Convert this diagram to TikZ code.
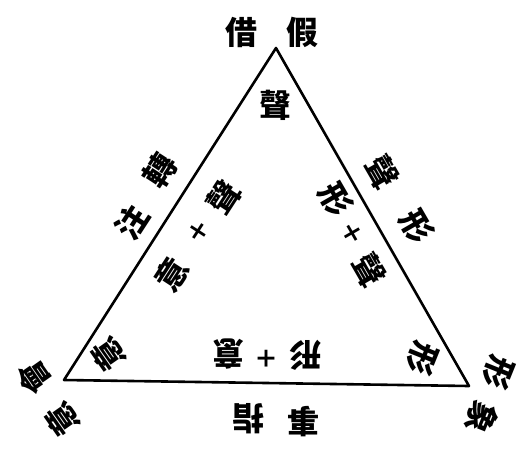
\documentclass[tikz,border=0pt]{standalone}
\usepackage{fontspec}
\newfontfamily\cjk{Noto Sans CJK TC}

\begin{document}
\begin{tikzpicture}[x=1pt, y=-1pt,
    zi/.style={font=\cjk\bfseries\fontsize{32}{32}\selectfont, inner sep=0pt},
    jia/.style={font=\cjk\bfseries\fontsize{24}{24}\selectfont, inner sep=0pt}]
    \useasboundingbox (0,0) rectangle (524,448);

    % 三角形
    \coordinate (A) at (276,48);
    \coordinate (B) at (64,380);
    \coordinate (C) at (469,386);
    \draw[line width=2.6pt, line join=round] (A) -- (B) -- (C) -- cycle;

    % 上頂點
    \node[zi] (jie) at (241,32) {借};
    \node[zi] (jia) at (302,32) {假};
    \node[zi] (shengA) at (275,105) {聲};

    % 左邊
    \node[zi, rotate=57] (zhu) at (132,222) {注};
    \node[zi, rotate=57] (zhuan) at (160,170) {轉};
    \node[zi, rotate=57] (yiL) at (172,274) {意};
    \node[jia, rotate=57] (plusL) at (199,232) {＋};
    \node[zi, rotate=57] (shengL) at (224,197) {聲};

    % 右邊
    \node[zi, rotate=-60] (shengR) at (382,172) {聲};
    \node[zi, rotate=-60] (xingR) at (417,226) {形};
    \node[zi, rotate=-60] (xingRi) at (336,199) {形};
    \node[jia, rotate=-60] (plusR) at (352,233) {＋};
    \node[zi, rotate=-60] (shengRi) at (369,270) {聲};

    % 底邊
    \node[zi, rotate=180] (zhi) at (248,419) {指};
    \node[zi, rotate=180] (shi) at (303,422) {事};
    \node[zi, rotate=180] (yiB) at (228,354) {意};
    \node[jia, rotate=180] (plusB) at (266,358) {＋};
    \node[zi, rotate=180] (xingB) at (305,355) {形};

    % 左頂點
    \node[zi, rotate=125] (hui) at (34,377) {會};
    \node[zi, rotate=125] (yi) at (62,420) {意};
    \node[zi, rotate=125] (yiBi) at (108,355) {意};

    % 右頂點
    \node[zi, rotate=-112] (xing) at (498,373) {形};
    \node[zi, rotate=-112] (xiang) at (482,418) {象};
    \node[zi, rotate=-112] (xingCi) at (422,359) {形};
\end{tikzpicture}
\end{document}
